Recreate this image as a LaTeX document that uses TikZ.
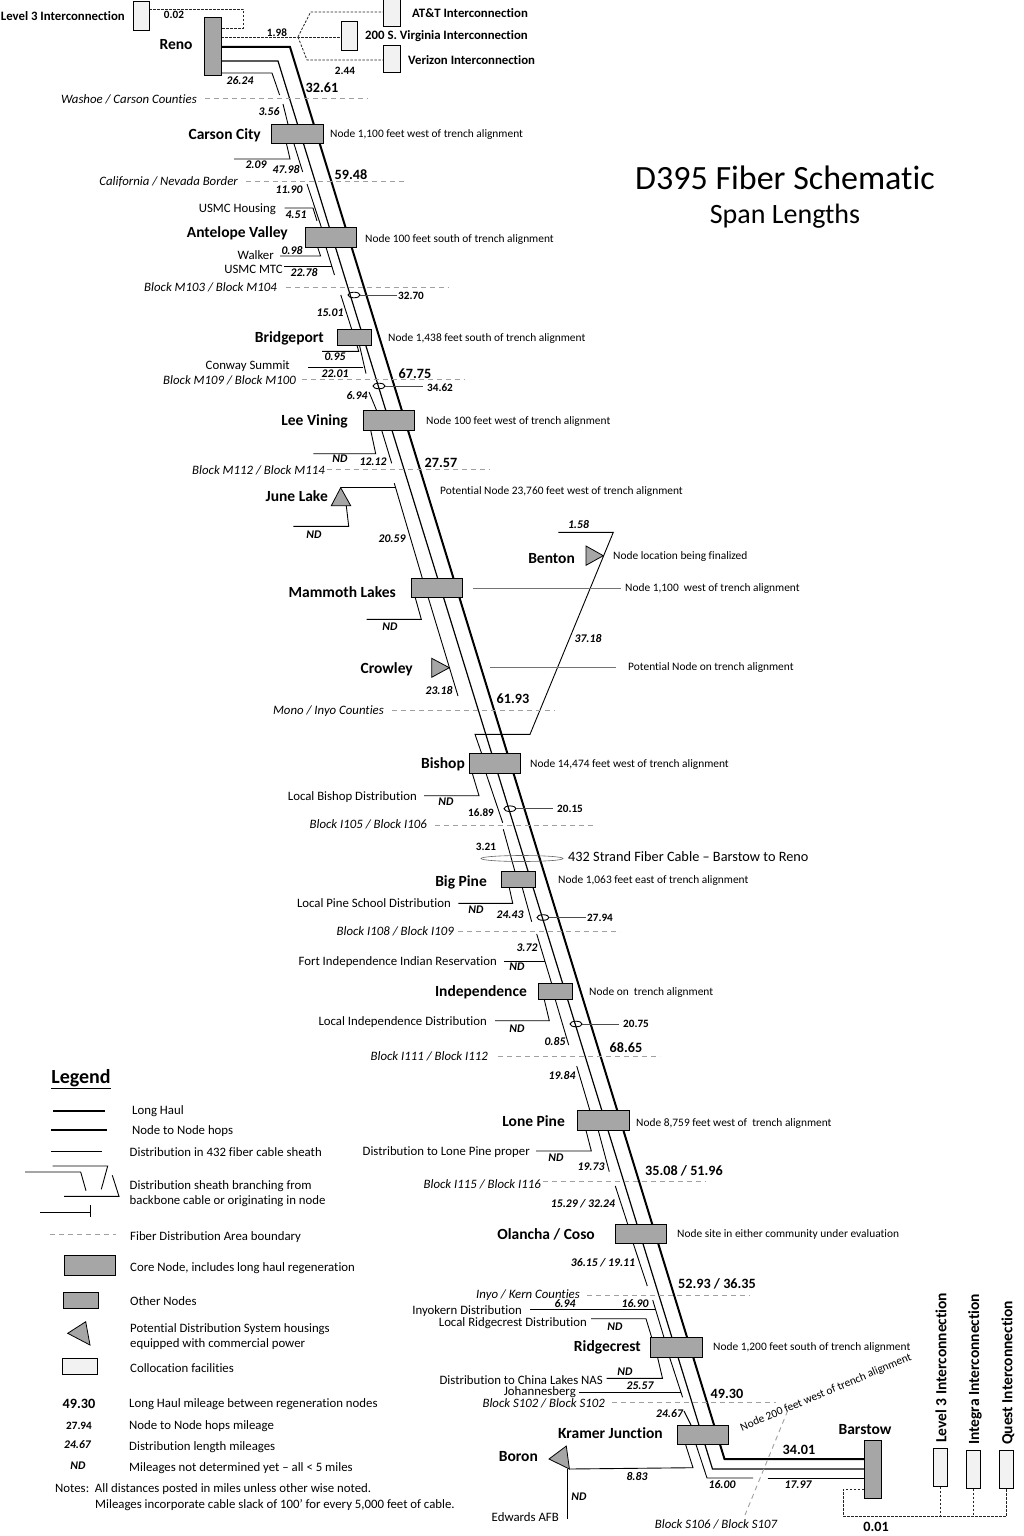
\documentclass[tikz,border=0pt]{standalone}
\usepackage{fontspec}
\setmainfont{Carlito}[Ligatures=CommonOff]
\usetikzlibrary{backgrounds}
\tikzset{
  nodebox/.style={shape=rectangle,draw=black,line width=1pt,fill=boxgray,inner sep=0pt,outer sep=0pt},
  corenode/.style={nodebox,minimum width=51.5pt,minimum height=19.6pt},
  othernode/.style={nodebox,minimum width=34.3pt,minimum height=16pt},
  colloc/.style={nodebox,fill=collocgray},
  potential/.style={draw=black,line width=.8pt,fill=boxgray},
  longhaul/.style={line width=2pt,line join=miter},
  hop/.style={line width=1.2pt},
  dist/.style={line width=.9pt},
  leader/.style={line width=.7pt,draw=black!70},
  boundary/.style={draw=dashgray,line width=.9pt,dash pattern=on 5pt off 4pt},
  interdash/.style={draw=black!85,line width=.8pt,dash pattern=on 2.5pt off 1.5pt},
  site/.style={font=\fontsize{15.5}{17}\selectfont\bfseries,inner sep=0pt,yshift=-.8pt},
  txt/.style={font=\fontsize{12.8}{14}\selectfont,inner sep=0pt,yshift=-.8pt},
  note/.style={font=\fontsize{11.4}{13}\selectfont,inner sep=0pt,yshift=-.8pt},
  legtxt/.style={font=\fontsize{12.8}{14}\selectfont,inner sep=0pt,yshift=-.8pt},
  area/.style={font=\fontsize{12.8}{14}\selectfont\itshape,inner sep=0pt,yshift=-.8pt},
  mile/.style={font=\fontsize{11.7}{13}\selectfont\bfseries\itshape,inner sep=0pt},
  hopmile/.style={font=\fontsize{11.2}{13}\selectfont\bfseries,inner sep=0pt},
  haulmile/.style={font=\fontsize{14.2}{16}\selectfont\bfseries,inner sep=0pt},
  interb/.style={font=\fontsize{12.8}{14}\selectfont\bfseries,inner sep=0pt},
  inter/.style={font=\fontsize{15.5}{17}\selectfont\bfseries,inner sep=0pt},
}
\definecolor{boxgray}{HTML}{A6A6A6}
\definecolor{collocgray}{HTML}{F2F2F2}
\definecolor{dashgray}{HTML}{A0A0A0}
\begin{document}
\begin{tikzpicture}[x=1pt,y=-1pt]
\useasboundingbox (0,0) rectangle (1024,1536);
% site boxes
\node (reno) at (212.5,47) [nodebox,minimum width=17pt,minimum height=58pt] {};
\node (carson) at (297.5,134) [corenode] {};
\node (antelope) at (331,237.5) [corenode] {};
\node (bridgeport) at (354.8,337.3) [othernode] {};
\node (leevining) at (389.2,420.5) [corenode] {};
\node (mammoth) at (437,588) [corenode] {};
\node (bishop) at (495,763.5) [corenode] {};
\node (bigpine) at (518.5,879.7) [othernode] {};
\node (independence) at (555.2,991.7) [othernode] {};
\node (lonepine) at (603.4,1120.7) [corenode] {};
\node (olancha) at (640.9,1233.9) [corenode] {};
\node (ridgecrest) at (676.7,1347.3) [corenode] {};
\node (kramer) at (703,1434.8) [corenode] {};
\node (barstow) at (872.5,1469.5) [nodebox,minimum width=17pt,minimum height=57.6pt] {};
% collocation boxes
\node (level3a) at (141,16) [colloc,minimum width=16pt,minimum height=29pt] {};
\node (att) at (391.5,13.5) [colloc,minimum width=17pt,minimum height=27pt] {};
\node (virginia) at (349,36.5) [colloc,minimum width=16pt,minimum height=29pt] {};
\node (verizon) at (391.5,59.5) [colloc,minimum width=17pt,minimum height=27pt] {};
\node (level3b) at (940.3,1467.5) [colloc,minimum width=14.5pt,minimum height=38.4pt] {};
\node (integra) at (973.7,1469.3) [colloc,minimum width=14.5pt,minimum height=38.6pt] {};
\node (quest) at (1006.7,1469.3) [colloc,minimum width=14.5pt,minimum height=38.6pt] {};
% site names
\node (lreno) at (176,44) [site] {Reno};
\node (lcarson) at (261,134) [site,anchor=east] {Carson City};
\node (lantelope) at (288,232) [site,anchor=east] {Antelope Valley};
\node (lbridgeport) at (324,338) [site,anchor=east] {Bridgeport};
\node (lleevining) at (348,421) [site,anchor=east] {Lee Vining};
\node (ljune) at (328,495) [site,anchor=east] {June Lake};
\node (lbenton) at (575,558) [site,anchor=east] {Benton};
\node (lmammoth) at (396,591) [site,anchor=east] {Mammoth Lakes};
\node (lcrowley) at (413,668) [site,anchor=east] {Crowley};
\node (lbishop) at (465,763) [site,anchor=east] {Bishop};
\node (lbigpine) at (487,882) [site,anchor=east] {Big Pine};
\node (lindep) at (527,991) [site,anchor=east] {Independence};
\node (llone) at (565,1120) [site,anchor=east] {Lone Pine};
\node (lolancha) at (595,1234) [site,anchor=east] {Olancha / Coso};
\node (lridge) at (641,1347) [site,anchor=east] {Ridgecrest};
\node (lkramer) at (663,1432) [site,anchor=east] {Kramer Junction};
\node (lboron) at (538,1456) [site,anchor=east] {Boron};
\node (lbarstow) at (865,1429) [site] {Barstow};
% interconnection names
\node (llevel3a) at (125,16) [interb,anchor=east] {Level 3 Interconnection};
\node (latt) at (412,13) [interb,anchor=west] {AT\&T Interconnection};
\node (lvirginia) at (365,36.5) [interb,anchor=west] {200 S. Virginia Interconnection};
\node (lverizon) at (408,60) [interb,anchor=west] {Verizon Interconnection};
\node (llevel3b) at (941,1443) [inter,rotate=90,anchor=west] {Level 3 Interconnection};
\node (lintegra) at (975,1445) [inter,rotate=90,anchor=west] {Integra Interconnection};
\node (lquest) at (1008,1445) [inter,rotate=90,anchor=west] {Quest Interconnection};
% title
\node (title) at (785,178) [inner sep=0pt,font=\fontsize{34}{38}\selectfont] {D395 Fiber Schematic};
\node (subtitle) at (785,216) [inner sep=0pt,font=\fontsize{28}{31}\selectfont] {Span Lengths};
% notes beside the sites
\node (ncarson) at (330,134) [note,anchor=west] {Node 1,100 feet west of trench alignment};
\node (nantelope) at (365,238.5) [note,anchor=west] {Node 100 feet south of trench alignment};
\node (nbridgeport) at (388,338) [note,anchor=west] {Node 1,438 feet south of trench alignment};
\node (nleevining) at (426,421) [note,anchor=west] {Node 100 feet west of trench alignment};
\node (njune) at (440,491) [note,anchor=west] {Potential Node 23,760 feet west of trench alignment};
\node (nbenton) at (613,556) [note,anchor=west] {Node location being finalized};
\node (nmammoth) at (625,588) [note,anchor=west] {Node 1,100\ \ west of trench alignment};
\node (ncrowley) at (628,667) [note,anchor=west] {Potential Node on trench alignment};
\node (nbishop) at (530,764) [note,anchor=west] {Node 14,474 feet west of trench alignment};
\node (nbigpine) at (558,880) [note,anchor=west] {Node 1,063 feet east of trench alignment};
\node (nindep) at (589,992) [note,anchor=west] {Node on\ \ trench alignment};
\node (nlone) at (636,1123) [note,anchor=west] {Node 8,759 feet west of\ \ trench alignment};
\node (nolancha) at (677,1234) [note,anchor=west] {Node site in either community under evaluation};
\node (nridge) at (713,1347) [note,anchor=west] {Node 1,200 feet south of trench alignment};
\node (nkramer) at (826,1392) [note,rotate=22.7] {Node 200 feet west of trench alignment};
\node (ncable) at (568,857) [inner sep=0pt,anchor=west,font=\fontsize{14.3}{16}\selectfont] {432 Strand Fiber Cable – Barstow to Reno};
% plain labels
\node (thousing) at (276,208) [txt,anchor=east] {USMC Housing};
\node (twalker) at (274,254) [txt,anchor=east] {Walker};
\node (tmtc) at (283,268.5) [txt,anchor=east] {USMC MTC};
\node (tconway) at (290,365) [txt,anchor=east] {Conway Summit};
\node (tlbishop) at (417,796) [txt,anchor=east] {Local Bishop Distribution};
\node (tlpine) at (451,902) [txt,anchor=east] {Local Pine School Distribution};
\node (tfort) at (497,961) [txt,anchor=east] {Fort Independence Indian Reservation};
\node (tlindep) at (487,1021) [txt,anchor=east] {Local Independence Distribution};
\node (tlone) at (530,1151) [txt,anchor=east] {Distribution to Lone Pine proper};
\node (tinyo) at (522,1310) [txt,anchor=east] {Inyokern Distribution};
\node (tlridge) at (587,1322) [txt,anchor=east] {Local Ridgecrest Distribution};
\node (tchina) at (603,1379) [txt,anchor=east] {Distribution to China Lakes NAS};
\node (tjoh) at (576,1391) [txt,anchor=east] {Johannesberg};
\node (tedw) at (559,1516) [txt,anchor=east] {Edwards AFB};
% area boundaries
\node (awashoe) at (197,98.5) [area,anchor=east] {Washoe / Carson Counties};
\node (acal) at (238,181.5) [area,anchor=east] {California / Nevada Border};
\node (am103) at (277,287) [area,anchor=east] {Block M103 / Block M104};
\node (am109) at (296,380) [area,anchor=east] {Block M109 / Block M100};
\node (am112) at (325,469.5) [area,anchor=east] {Block M112 / Block M114};
\node (amono) at (384,710) [area,anchor=east] {Mono / Inyo Counties};
\node (ai105) at (427,824) [area,anchor=east] {Block I105 / Block I106};
\node (ai108) at (454,931) [area,anchor=east] {Block I108 / Block I109};
\node (ai111) at (488,1056) [area,anchor=east] {Block I111 / Block I112};
\node (ai115) at (541,1184) [area,anchor=east] {Block I115 / Block I116};
\node (akern) at (580,1294) [area,anchor=east] {Inyo / Kern Counties};
\node (as102) at (605,1403) [area,anchor=east] {Block S102 / Block S102};
\node (as106) at (716,1524) [area] {Block S106 / Block S107};
% long haul mileage
\node (m3261) at (322,88) [haulmile] {32.61};
\node (m5948) at (351,174.5) [haulmile] {59.48};
\node (m6775) at (415,374) [haulmile] {67.75};
\node (m2757) at (441,463) [haulmile] {27.57};
\node (m6193) at (513,699) [haulmile] {61.93};
\node (m6865) at (626,1048) [haulmile] {68.65};
\node (m3508) at (684,1171) [haulmile] {35.08 / 51.96};
\node (m5293) at (717,1284) [haulmile] {52.93 / 36.35};
\node (m4930) at (727,1394) [haulmile] {49.30};
\node (m3401) at (799,1450) [haulmile] {34.01};
\node (m001) at (876,1527) [haulmile] {0.01};
% hop mileage
\node (h002) at (174,15) [hopmile] {0.02};
\node (h198) at (277,32.5) [hopmile] {1.98};
\node (h244) at (345,71) [hopmile] {2.44};
\node (h3270) at (411,295.5) [hopmile] {32.70};
\node (h3462) at (440,388) [hopmile] {34.62};
\node (h1689) at (481,813) [hopmile] {16.89};
\node (h2015) at (570,809) [hopmile] {20.15};
\node (h321) at (486,847) [hopmile] {3.21};
\node (h2794) at (600,918) [hopmile] {27.94};
\node (h2075) at (636,1024) [hopmile] {20.75};
% distribution mileage
\node (d2624) at (240,81) [mile] {26.24};
\node (d356) at (269,112) [mile] {3.56};
\node (d209) at (256,165) [mile] {2.09};
\node (d4798) at (286,170) [mile] {47.98};
\node (d1190) at (289,190) [mile] {11.90};
\node (d451) at (296,215) [mile] {4.51};
\node (d098) at (292,251) [mile] {0.98};
\node (d2278) at (304,272.5) [mile] {22.78};
\node (d1501) at (330,312.5) [mile] {15.01};
\node (d095) at (335,357) [mile] {0.95};
\node (d2201) at (335,374) [mile] {22.01};
\node (d694a) at (357,396) [mile] {6.94};
\node (dnda) at (340,459) [mile] {ND};
\node (d1212) at (373,462) [mile] {12.12};
\node (dndb) at (314,535) [mile] {ND};
\node (d2059) at (392,538.5) [mile] {20.59};
\node (d158) at (578.5,525) [mile] {1.58};
\node (dndc) at (390,627) [mile] {ND};
\node (d3718) at (588,639) [mile] {37.18};
\node (d2318) at (439,690) [mile] {23.18};
\node (dndd) at (446,802) [mile] {ND};
\node (dnde) at (476,910) [mile] {ND};
\node (d2443) at (510,915) [mile] {24.43};
\node (d372) at (527,948) [mile] {3.72};
\node (dndf) at (517,967) [mile] {ND};
\node (dndg) at (517,1029) [mile] {ND};
\node (d085) at (555,1041) [mile] {0.85};
\node (d1984) at (562,1075) [mile] {19.84};
\node (dndh) at (556,1158) [mile] {ND};
\node (d1973) at (591,1167) [mile] {19.73};
\node (d1529) at (583,1204) [mile] {15.29 / 32.24};
\node (d3615) at (603,1263) [mile] {36.15 / 19.11};
\node (d694b) at (565,1303.5) [mile] {6.94};
\node (d1690) at (635,1303.5) [mile] {16.90};
\node (dndi) at (615,1327) [mile] {ND};
\node (dndj) at (625,1372) [mile] {ND};
\node (d2557) at (640,1386) [mile] {25.57};
\node (d2467) at (669.5,1414) [mile] {24.67};
\node (d883) at (637,1476) [mile] {8.83};
\node (dndk) at (579,1497) [mile] {ND};
\node (d1600) at (722,1485) [mile] {16.00};
\node (d1797) at (798,1485) [mile] {17.97};
% legend
\node (legend) at (81,1079) [inner sep=0pt,font=\fontsize{20}{22}\selectfont\bfseries] {\underline{Legend}};
\node (klong) at (132,1110) [legtxt,anchor=west] {Long Haul};
\node (khop) at (132,1130) [legtxt,anchor=west] {Node to Node hops};
\node (kdist) at (129.5,1151) [legtxt,anchor=west] {Distribution in 432 fiber cable sheath};
\node (kbranch) at (129.5,1185) [legtxt,anchor=west] {Distribution sheath branching from};
\node (kbranchb) at (129.5,1200) [legtxt,anchor=west] {backbone cable or originating in node};
\node (kbound) at (130,1236) [legtxt,anchor=west] {Fiber Distribution Area boundary};
\node (kcore) at (130,1267) [legtxt,anchor=west] {Core Node, includes long haul regeneration};
\node (kother) at (130,1300) [legtxt,anchor=west] {Other Nodes};
\node (kpot) at (130,1328) [legtxt,anchor=west] {Potential Distribution System housings};
\node (kpotb) at (130,1343) [legtxt,anchor=west] {equipped with commercial power};
\node (kcoll) at (130,1367) [legtxt,anchor=west] {Collocation facilities};
\node (khaulm) at (129,1403) [legtxt,anchor=west] {Long Haul mileage between regeneration nodes};
\node (khopm) at (129,1425) [legtxt,anchor=west] {Node to Node hops mileage};
\node (kdistm) at (129,1446) [legtxt,anchor=west] {Distribution length mileages};
\node (kndm) at (129,1467) [legtxt,anchor=west] {Mileages not determined yet – all < 5 miles};
\node (mhaul) at (79,1404) [haulmile] {49.30};
\node (mhop) at (79,1426) [hopmile] {27.94};
\node (mdist) at (77.5,1445) [mile] {24.67};
\node (mnd) at (78,1466) [mile] {ND};
\node (knotes) at (55,1488.5) [legtxt,anchor=west] {Notes:\ \ All distances posted in miles unless other wise noted.};
\node (knotesb) at (95,1504) [legtxt,anchor=west] {Mileages incorporate cable slack of 100’ for every 5,000 feet of cable.};
\node (kcorebox) at (90.2,1265.3) [corenode] {};
\node (kotherbox) at (80.5,1300) [othernode,minimum width=35pt] {};
\node (kcollbox) at (80,1366) [colloc,minimum width=35pt,minimum height=16pt] {};
% legend sample lines
\coordinate (ka1) at (53,1111);
\coordinate (ka2) at (105,1111);
\coordinate (kb1) at (51,1130);
\coordinate (kb2) at (107,1130);
\coordinate (kc1) at (51,1151);
\coordinate (kc2) at (102,1151);
\coordinate (kd1) at (52.7,1166);
\coordinate (kd2) at (107.7,1166);
\coordinate (kd3) at (101.3,1189.3);
\coordinate (ke1) at (25,1172);
\coordinate (ke2) at (80.7,1172);
\coordinate (ke3) at (86,1190.7);
\coordinate (kf1) at (64,1196.3);
\coordinate (kf2) at (119,1196.3);
\coordinate (kf3) at (112.3,1175.3);
\coordinate (kg1) at (40,1212);
\coordinate (kg2) at (90,1212);
\coordinate (kg3) at (90,1205.3);
\coordinate (kg4) at (90,1217.3);
\coordinate (kh1) at (50,1234.7);
\coordinate (kh2) at (116,1234.7);
\coordinate (kt1) at (67.7,1333.3);
\coordinate (kt2) at (85.7,1321.7);
\coordinate (kt3) at (90,1345);
\draw [longhaul] (ka1) -- (ka2);
\draw [hop] (kb1) -- (kb2);
\draw [dist] (kc1) -- (kc2);
\draw [dist] (kd1) -- (kd2) -- (kd3);
\draw [dist] (ke1) -- (ke2) -- (ke3);
\draw [dist] (kf1) -- (kf2) -- (kf3);
\draw [dist] (kg1) -- (kg2);
\draw [dist] (kg3) -- (kg4);
\draw [boundary] (kh1) -- (kh2);
\draw [potential] (kt1) -- (kt2) -- (kt3) -- cycle;
% potential housings
\coordinate (junea) at (340.7,487.7);
\coordinate (juneb) at (331.3,505.7);
\coordinate (junec) at (350.7,505.7);
\coordinate (bentona) at (586,546);
\coordinate (bentonb) at (586,565.3);
\coordinate (bentonc) at (603.3,555.7);
\coordinate (crowa) at (431.7,658.3);
\coordinate (crowb) at (431.7,677.3);
\coordinate (crowc) at (449.3,667.7);
\coordinate (borona) at (549,1459);
\coordinate (boronb) at (566.3,1446);
\coordinate (boronc) at (569.4,1469);
\draw [potential] (junea) -- (juneb) -- (junec) -- cycle;
\draw [potential] (bentona) -- (bentonb) -- (bentonc) -- cycle;
\draw [potential] (crowa) -- (crowb) -- (crowc) -- cycle;
\draw [potential] (borona) -- (boronb) -- (boronc) -- cycle;
\begin{scope}[on background layer]
% backbone
\coordinate (lh1) at (290,47);
\coordinate (lh2) at (724.5,1459);
\coordinate (nh1) at (278,61);
\coordinate (nh2) at (712.5,1469);
\draw [longhaul] (reno.east |- lh1) -- (lh1) -- (lh2) -- (barstow.west |- lh2);
\draw [hop] (reno.east |- nh1) -- (nh1) -- (nh2) -- (barstow.west |- nh2);
% distribution sheath, north to south
\coordinate (a1) at (272,73);
\coordinate (a2) at (279.6,95);
\draw [dist] (reno.east |- a1) -- (a1) -- (a2);
\coordinate (b1) at (283,104);
\draw [dist] (b1) -- ([xshift=-9.5pt]carson.north);
\coordinate (c1) at (290,159);
\coordinate (c2) at (234,159);
\draw [dist] ([xshift=-11pt]carson.south) -- (c1) -- (c2);
\coordinate (c3) at (302.7,172);
\draw [dist] ([xshift=-3.5pt]carson.south) -- (c3);
\coordinate (e1) at (307,184);
\draw [dist] (e1) -- ([xshift=-9.5pt]antelope.north);
\coordinate (e2) at (284.6,208);
\coordinate (e3) at (313,208);
\coordinate (e4) at (317,221);
\draw [dist] (e2) -- (e3) -- (e4);
\coordinate (f1) at (320.6,256);
\coordinate (f2) at (280,256);
\draw [dist] ([xshift=-13.3pt]antelope.south) -- (f1) -- (f2);
\coordinate (f3) at (334.5,275);
\coordinate (f4) at (331.7,266);
\coordinate (f5) at (283.6,266);
\draw [dist] ([xshift=-5pt]antelope.south) -- (f3);
\draw [dist] (f4) -- (f5);
\coordinate (g1) at (340.8,295);
\draw [dist] (g1) -- ([xshift=-3.1pt]bridgeport.north);
\coordinate (h1) at (358.7,351.3);
\coordinate (h2) at (322,351.3);
\draw [dist] ([xshift=2.2pt]bridgeport.south) -- (h1) -- (h2);
\coordinate (h3) at (363.3,367);
\coordinate (h4) at (308.3,367);
\coordinate (h5) at (366,373.6);
\draw [dist] ([xshift=4.7pt]bridgeport.south) -- (h5);
\draw [dist] (h3) -- (h4);
\coordinate (i1) at (369,392);
\draw [dist] (i1) -- ([xshift=-12.5pt]leevining.north);
\coordinate (j1) at (375.7,453.7);
\coordinate (j2) at (313.3,453.7);
\draw [dist] ([xshift=-18.5pt]leevining.south) -- (j1) -- (j2);
\coordinate (j3) at (391.7,463.3);
\draw [dist] ([xshift=-7.5pt]leevining.south) -- (j3);
\coordinate (k1) at (395,487.7);
\coordinate (k2) at (394.3,483.3);
\draw [dist] (junea) -- (k1);
\draw [dist] (k2) -- ([xshift=-14.7pt]mammoth.north);
\coordinate (k3) at (346.3,505.7);
\coordinate (k4) at (348.7,526.3);
\coordinate (k5) at (293.3,526.3);
\draw [dist] (k3) -- (k4) -- (k5);
\coordinate (l1) at (421.3,619.3);
\coordinate (l2) at (366.7,619.3);
\draw [dist] ([xshift=-21.7pt]mammoth.south) -- (l1) -- (l2);
\coordinate (l3) at (458,696);
\draw [dist] ([xshift=-8.7pt]mammoth.south) -- (l3);
\coordinate (m1) at (558.3,532.3);
\coordinate (m2) at (613.3,532.3);
\coordinate (m3) at (530,734.3);
\coordinate (m4) at (475,734.3);
\draw [dist] (m1) -- (m2) -- (m3) -- (m4) -- ([xshift=-13.3pt]bishop.north);
\coordinate (n1) at (479,795.7);
\coordinate (n2) at (424,795.7);
\draw [dist] ([xshift=-22.7pt]bishop.south) -- (n1) -- (n2);
\coordinate (n3) at (502.7,822.7);
\draw [dist] ([xshift=-9pt]bishop.south) -- (n3);
\coordinate (o1) at (503.3,829.3);
\draw [dist] (o1) -- ([xshift=-3.5pt]bigpine.north);
\coordinate (p1) at (512.7,903.3);
\coordinate (p2) at (458.3,903.3);
\draw [dist] ([xshift=-9.2pt]bigpine.south) -- (p1) -- (p2);
\coordinate (p3) at (531.7,921.7);
\draw [dist] ([xshift=3.8pt]bigpine.south) -- (p3);
\coordinate (q1) at (536.7,934);
\coordinate (q2) at (504,961);
\coordinate (q3) at (545,961);
\draw [dist] (q1) -- ([xshift=-3.5pt]independence.north);
\draw [dist] (q2) -- (q3);
\coordinate (r1) at (549.3,1020.7);
\coordinate (r2) at (495,1020.7);
\draw [dist] ([xshift=-10.9pt]independence.south) -- (r1) -- (r2);
\coordinate (r3) at (568.7,1045);
\draw [dist] ([xshift=.1pt]independence.south) -- (r3);
\coordinate (s1) at (576.7,1066);
\draw [dist] (s1) -- ([xshift=-13.4pt]lonepine.north);
\coordinate (t1) at (591.3,1151);
\coordinate (t2) at (536,1151);
\draw [dist] ([xshift=-17.4pt]lonepine.south) -- (t1) -- (t2);
\coordinate (t3) at (609.3,1171.7);
\draw [dist] ([xshift=-5.1pt]lonepine.south) -- (t3);
\coordinate (u1) at (615.3,1186);
\draw [dist] (u1) -- ([xshift=-13.2pt]olancha.north);
\coordinate (u2) at (647.3,1286);
\draw [dist] ([xshift=-7.6pt]olancha.south) -- (u2);
\coordinate (v1) at (652.7,1300);
\coordinate (v2) at (655.5,1309);
\coordinate (v3) at (530,1309);
\draw [dist] (v1) -- ([xshift=-12.7pt]ridgecrest.north);
\draw [dist] (v2) -- (v3);
\coordinate (v4) at (646,1318.7);
\coordinate (v5) at (591,1318.7);
\draw [dist] ([xshift=-25pt]ridgecrest.north) -- (v4) -- (v5);
\coordinate (w1) at (662.5,1378.3);
\coordinate (w2) at (606.7,1378.3);
\draw [dist] ([xshift=-19.2pt]ridgecrest.south) -- (w1) -- (w2);
\coordinate (w3) at (682.6,1397.3);
\coordinate (w4) at (681,1392.3);
\coordinate (w5) at (579,1392.3);
\draw [dist] ([xshift=-7.2pt]ridgecrest.south) -- (w3);
\draw [dist] (w4) -- (w5);
\coordinate (x1) at (684,1411);
\draw [dist] (x1) -- ([xshift=-12pt]kramer.north);
\coordinate (y1) at (693,1467.7);
\draw [dist] ([xshift=-17.4pt]kramer.south) -- (y1) -- (boronc);
\coordinate (y2) at (567.5,1469);
\coordinate (y3) at (567.5,1519);
\draw [dist] (y2) -- (y3);
\coordinate (y4) at (707,1478);
\coordinate (y5) at (753,1478);
\coordinate (y6) at (767.7,1478);
\draw [dist] ([xshift=-7pt]kramer.south) -- (y4) -- (y5);
\draw [dist] (y6) -- (barstow.west |- y6);
% interconnection dashes
\coordinate (z1) at (243.5,9.5);
\coordinate (z2) at (243.5,28);
\draw [interdash] (level3a.east |- z1) -- (z1) -- (z2) -- (reno.east |- z2);
\coordinate (z3) at (298,37);
\coordinate (z4) at (310.6,12);
\coordinate (z5) at (307,60);
\draw [interdash] (reno.east |- z3) -- (z3) -- (virginia.west |- z3);
\draw [interdash] (z3) -- (z4) -- (att.west |- z4);
\draw [interdash] (z3) -- (z5) -- (verizon.west |- z5);
\coordinate (z6) at (843,1489);
\coordinate (z7) at (843,1516);
\draw [interdash] (barstow.west |- z6) -- (z6) -- (z7) -- (quest.south |- z7) -- (quest.south);
\draw [interdash] (level3b.south) -- (level3b.south |- z7);
\draw [interdash] (integra.south) -- (integra.south |- z7);
% fiber distribution area boundaries
\coordinate (b01) at (205,98);
\coordinate (b02) at (367.7,98);
\coordinate (b03) at (246,181.5);
\coordinate (b04) at (407,181.5);
\coordinate (b05) at (285.6,287);
\coordinate (b06) at (449,287);
\coordinate (b07) at (301.7,379);
\coordinate (b08) at (464,379);
\coordinate (b09) at (326.7,469.7);
\coordinate (b10) at (490,469.7);
\coordinate (b11) at (392,710);
\coordinate (b12) at (555,710);
\coordinate (b13) at (435,825);
\coordinate (b14) at (596.7,825);
\coordinate (b15) at (458,931);
\coordinate (b16) at (620,931);
\coordinate (b17) at (498,1056);
\coordinate (b18) at (660,1056);
\coordinate (b19) at (542.7,1181);
\coordinate (b20) at (705,1181);
\coordinate (b21) at (587.3,1295);
\coordinate (b22) at (750,1295);
\coordinate (b23) at (611.7,1402);
\coordinate (b24) at (776,1402);
\coordinate (b25) at (787.7,1410.7);
\coordinate (b26) at (745,1515);
\draw [boundary] (b01) -- (b02);
\draw [boundary] (b03) -- (b04);
\draw [boundary] (b05) -- (b06);
\draw [boundary] (b07) -- (b08);
\draw [boundary] (b09) -- (b10);
\draw [boundary] (b11) -- (b12);
\draw [boundary] (b13) -- (b14);
\draw [boundary] (b15) -- (b16);
\draw [boundary] (b17) -- (b18);
\draw [boundary] (b19) -- (b20);
\draw [boundary] (b21) -- (b22);
\draw [boundary] (b23) -- (b24);
\draw [boundary] (b25) -- (b26);
% splice marks
\coordinate (c270) at (354,295);
\coordinate (c346) at (379,386);
\coordinate (c201) at (510,808.7);
\coordinate (c279) at (543,917.5);
\coordinate (c207) at (576,1024);
\coordinate (c432) at (522,858.5);
\draw [dist] (c270) ellipse (6 and 2.8);
\draw [dist] (c346) ellipse (6 and 2.8);
\draw [dist] (c201) ellipse (6 and 2.8);
\draw [dist] (c279) ellipse (6 and 2.8);
\draw [dist] (c207) ellipse (6 and 2.8);
\draw [draw=black!60,line width=.6pt] (c432) ellipse (41 and 3);
\draw [leader] (c270) ++(6,0) -- ([xshift=-1pt]h3270.west |- c270);
\draw [leader] (c346) ++(6,0) -- ([xshift=-4pt]h3462.west |- c346);
\draw [leader] (c201) ++(6,0) -- ([xshift=-4pt]h2015.west |- c201);
\draw [leader] (c279) ++(6,0) -- ([xshift=-1pt]h2794.west |- c279);
\draw [leader] (c207) ++(6,0) -- ([xshift=-4pt]h2075.west |- c207);
\coordinate (n01) at (472.7,588);
\coordinate (n02) at (490,667);
\draw [leader,draw=black!55] (n01) -- ([xshift=-4pt]nmammoth.west |- n01);
\draw [leader,draw=black!55] (n02) -- ([xshift=-12pt]ncrowley.west |- n02);
\end{scope}
\end{tikzpicture}
\end{document}
